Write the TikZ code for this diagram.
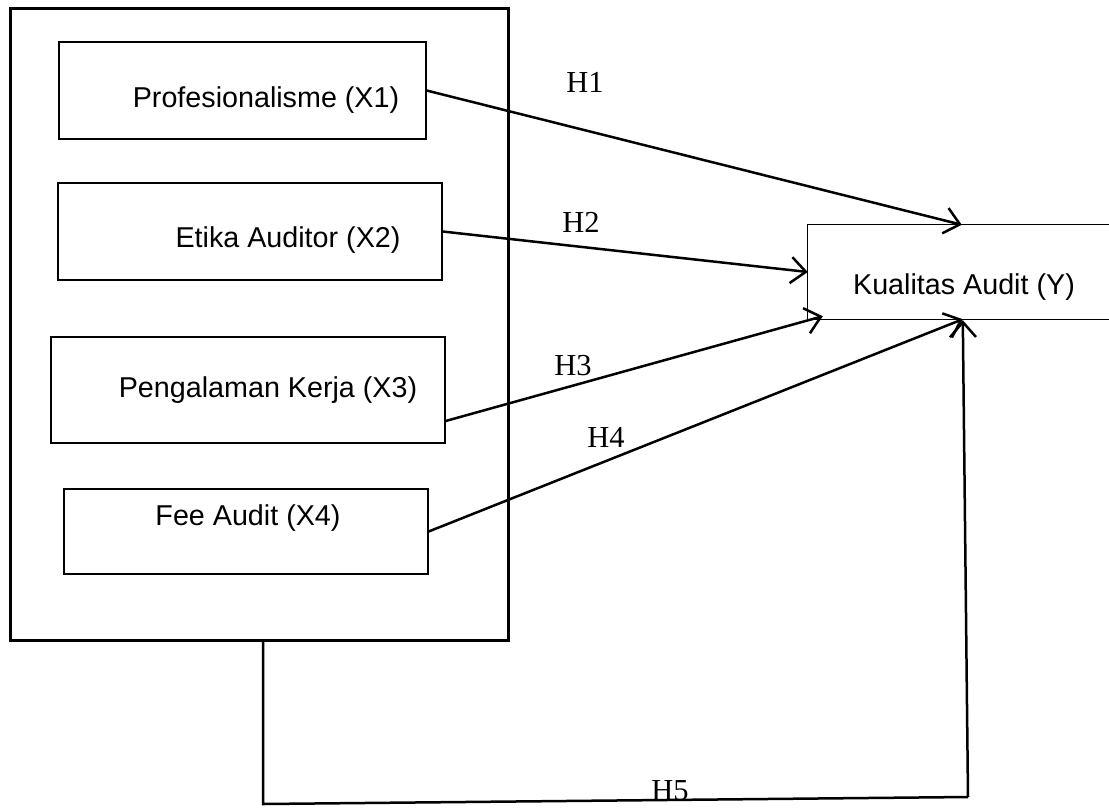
\documentclass[tikz,border=0pt]{standalone}
\usepackage{fontspec}
\setmainfont{Liberation Serif}
\newfontfamily\arialf{Liberation Sans}
\usetikzlibrary{arrows.meta,calc}
\begin{document}
\begin{tikzpicture}[x=1pt,y=-1pt,
  inbox/.style={draw,line width=1.3pt,inner sep=0pt,rectangle},
  btext/.style={inner sep=0pt,font=\arialf\fontsize{28.7}{32}\selectfont},
  hlab/.style={inner sep=0pt,font=\fontsize{30.5}{34}\selectfont},
  conn/.style={line width=2.5pt,-{Straight Barb[length=15pt,width=26pt,line width=2.5pt]}},
  plain/.style={line width=2.5pt}]
\useasboundingbox (0,0) rectangle (1109,807);
% outer box
\node[draw,line width=3pt,inner sep=0pt,minimum width=498pt,minimum height=632pt] (outer) at (259,324) {};
% inner boxes
\node[inbox,minimum width=367pt,minimum height=97pt] (b1) at (242.5,90.5) {};
\node[inbox,minimum width=384pt,minimum height=97pt] (b2) at (250,231.5) {};
\node[inbox,minimum width=394pt,minimum height=106pt] (b3) at (248,390) {};
\node[inbox,minimum width=364pt,minimum height=85pt] (b4) at (246,531.5) {};
\node[btext] (t1) at (266,100) {Profesionalisme (X1)};
\node[btext] (t2) at (288,240) {Etika Auditor (X2)};
\node[btext] (t3) at (268,390) {Pengalaman Kerja (X3)};
\node[btext] (t4) at (248,518) {Fee Audit (X4)};
% target box (open on the right)
\node[inner sep=0pt,minimum width=301pt,minimum height=94pt] (ky) at (958.5,272) {};
\draw[line width=1.3pt] (ky.north east) -- (ky.north west) -- (ky.south west) -- (ky.south east);
\node[btext] (ty) at (964,287) {Kualitas Audit (Y)};
% connectors
\coordinate (e1) at ($(ky.north west)+(154,0)$);
\coordinate (e3) at ($(ky.south west)+(15,-3)$);
\coordinate (e4) at ($(ky.south west)+(155,0)$);
\coordinate (e5) at ($(ky.south west)+(155,1)$);
\coordinate (s3) at ($(b3.east)+(0,31)$);
\draw[conn] (b1.east) -- (e1);
\draw[conn] (b2.east) -- (ky.west);
\draw[conn] (s3) -- (e3);
\draw[conn] (b4.east) -- (e4);
\coordinate (c1) at (263,804);
\coordinate (c2) at (968,797);
\draw[plain] (outer.south -| c1) -- (c1) -- (c2);
\draw[conn] (c2) -- (e5);
% labels
\node[hlab] (h1) at (585,82) {H1};
\node[hlab] (h2) at (581,222) {H2};
\node[hlab] (h3) at (573,366) {H3};
\node[hlab] (h4) at (606,437) {H4};
\node[hlab] (h5) at (670,791) {H5};
\end{tikzpicture}
\end{document}
